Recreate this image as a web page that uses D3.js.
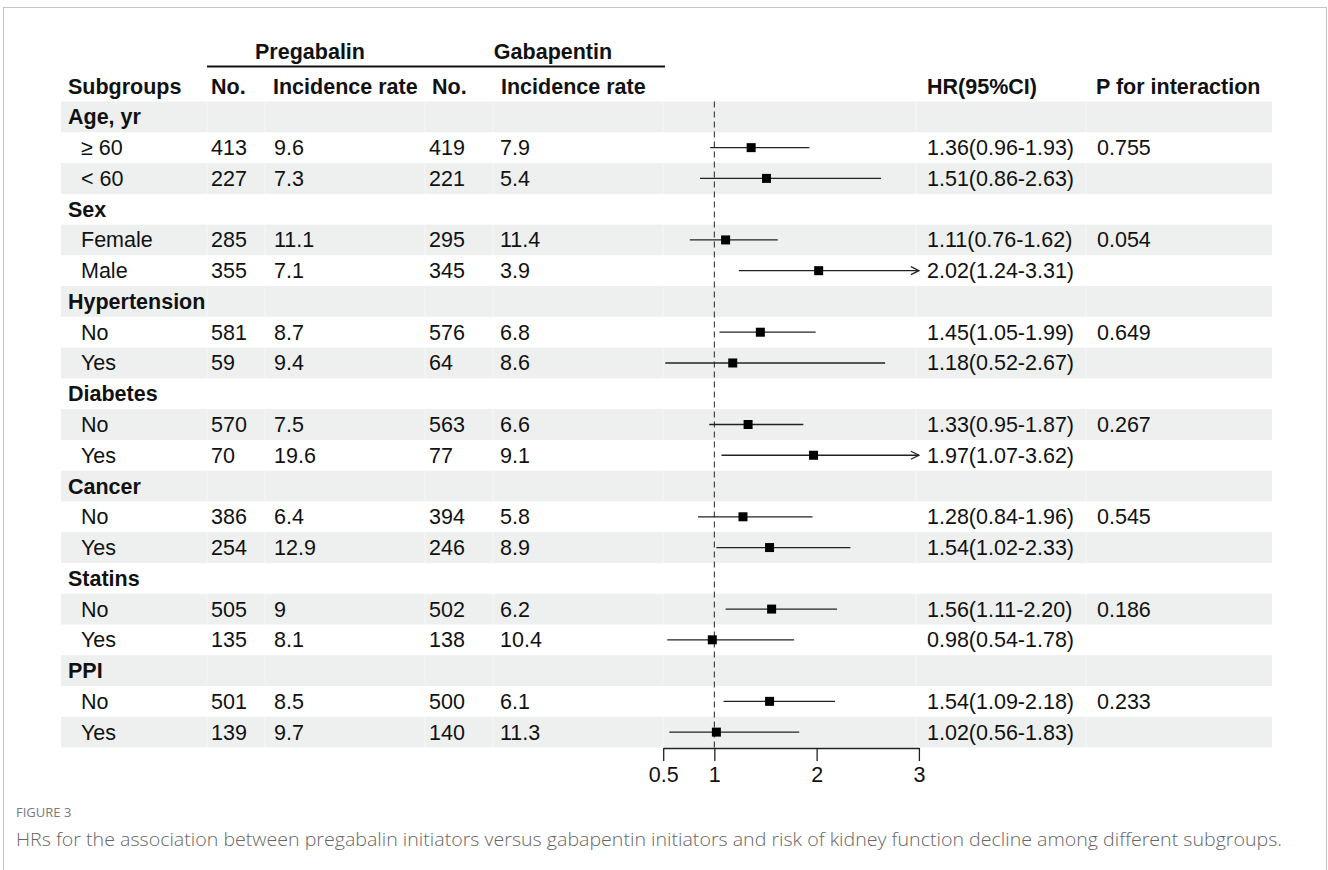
<!DOCTYPE html>
<html>
<head>
<meta charset="utf-8">
<script src="https://cdn.jsdelivr.net/npm/d3@7"></script>
<style>
  body { margin: 0; background: #fff; }
  text { font-family: "Liberation Sans", Arial, sans-serif; }
</style>
</head>
<body>
<div id="chart"></div>
<script>
const groups = ["Age, yr", "Sex", "Hypertension", "Diabetes", "Cancer", "Statins", "PPI"];
const subLabels = ["≥ 60", "< 60", "Female", "Male", "No", "Yes", "No", "Yes", "No", "Yes", "No", "Yes", "No", "Yes"];
const pregN = [413, 227, 285, 355, 581, 59, 570, 70, 386, 254, 505, 135, 501, 139];
const pregRate = ["9.6", "7.3", "11.1", "7.1", "8.7", "9.4", "7.5", "19.6", "6.4", "12.9", "9", "8.1", "8.5", "9.7"];
const gabaN = [419, 221, 295, 345, 576, 64, 563, 77, 394, 246, 502, 138, 500, 140];
const gabaRate = ["7.9", "5.4", "11.4", "3.9", "6.8", "8.6", "6.6", "9.1", "5.8", "8.9", "6.2", "10.4", "6.1", "11.3"];
const hr = [1.36, 1.51, 1.11, 2.02, 1.45, 1.18, 1.33, 1.97, 1.28, 1.54, 1.56, 0.98, 1.54, 1.02];
const lower = [0.96, 0.86, 0.76, 1.24, 1.05, 0.52, 0.95, 1.07, 0.84, 1.02, 1.11, 0.54, 1.09, 0.56];
const upper = [1.93, 2.63, 1.62, 3.31, 1.99, 2.67, 1.87, 3.62, 1.96, 2.33, 2.20, 1.78, 2.18, 1.83];
const pInteraction = ["0.755", "0.054", "0.649", "0.267", "0.545", "0.186", "0.233"];
const axisTicks = [0.5, 1, 2, 3];

// flatten into table rows: group header followed by its two subgroups
const rows = [];
groups.forEach((g, gi) => {
  rows.push({ type: "group", label: g });
  [0, 1].forEach(k => {
    const i = gi * 2 + k;
    rows.push({
      type: "sub", label: subLabels[i],
      n1: pregN[i], r1: pregRate[i], n2: gabaN[i], r2: gabaRate[i],
      hr: hr[i], lo: lower[i], hi: upper[i],
      p: k === 0 ? pInteraction[gi] : ""
    });
  });
});

const W = 1328, H = 870;
const svg = d3.select("#chart").append("svg")
  .attr("width", W)
  .attr("height", H);

// figure frame
svg.append("rect")
  .attr("x", 3.5).attr("y", 7.5)
  .attr("width", 1323).attr("height", 900)
  .attr("fill", "none")
  .attr("stroke", "#c4c4c4");

const y = d3.scaleBand()
  .domain(d3.range(rows.length))
  .range([101.5, 747.5]);

const x = d3.scaleLinear()
  .domain([0.5, 3])
  .range([663.2, 918.9]);

const fs = 21.5;
const col = { sub: 68, subIn: 81, n1: 211, r1: 274, n2: 429, r2: 500, hr: 927, p: 1097 };

// zebra shading
svg.append("g")
  .selectAll("rect")
  .data(rows.filter((d, i) => i % 2 === 0))
  .join("rect")
    .attr("x", 61)
    .attr("y", d => y(rows.indexOf(d)))
    .attr("width", 1272 - 61)
    .attr("height", y.bandwidth())
    .attr("fill", "#edf0ef");

// faint cell separators inside shaded rows
const seps = [207, 265, 425, 493, 663, 916, 1086];
svg.append("g")
  .selectAll("line")
  .data(seps)
  .join("line")
    .attr("x1", d => d).attr("x2", d => d)
    .attr("y1", 101.5).attr("y2", 747.5)
    .attr("stroke", "#fff")
    .attr("stroke-opacity", 0.5);

// column headers
const head = svg.append("g")
  .attr("font-size", fs)
  .attr("font-weight", "bold")
  .attr("fill", "#111");
head.append("text").attr("x", 310).attr("y", 59).attr("text-anchor", "middle").text("Pregabalin");
head.append("text").attr("x", 553).attr("y", 59).attr("text-anchor", "middle").text("Gabapentin");
svg.append("line")
  .attr("x1", 207).attr("x2", 665)
  .attr("y1", 66.5).attr("y2", 66.5)
  .attr("stroke", "#111")
  .attr("stroke-width", 2);
[["Subgroups", col.sub], ["No.", 211], ["Incidence rate", 273], ["No.", 432],
 ["Incidence rate", 501], ["HR(95%CI)", col.hr], ["P for interaction", 1096]]
  .forEach(([t, xx]) => head.append("text").attr("x", xx).attr("y", 93.5).text(t));

// table text
const body = svg.append("g")
  .attr("font-size", fs)
  .attr("fill", "#111");
const rowG = body.selectAll("g")
  .data(rows)
  .join("g")
    .attr("transform", (d, i) => `translate(0,${y(i) + y.bandwidth() / 2 + 7.5})`);

rowG.filter(d => d.type === "group")
  .append("text")
    .attr("x", col.sub)
    .attr("font-weight", "bold")
    .text(d => d.label);

const subs = rowG.filter(d => d.type === "sub");
subs.append("text").attr("x", col.subIn).text(d => d.label);
subs.append("text").attr("x", col.n1).text(d => d.n1);
subs.append("text").attr("x", col.r1).text(d => d.r1);
subs.append("text").attr("x", col.n2).text(d => d.n2);
subs.append("text").attr("x", col.r2).text(d => d.r2);
subs.append("text").attr("x", col.hr)
  .text(d => `${d.hr.toFixed(2)}(${d.lo.toFixed(2)}-${d.hi.toFixed(2)})`);
subs.append("text").attr("x", col.p).text(d => d.p);

// reference line at HR = 1
svg.append("line")
  .attr("x1", x(1)).attr("x2", x(1))
  .attr("y1", 101.5).attr("y2", 748)
  .attr("stroke", "#222")
  .attr("stroke-dasharray", "6,4");

// confidence intervals and point estimates
const xmax = x.domain()[1];
const forest = svg.append("g");
const subIdx = rows.map((d, i) => i).filter(i => rows[i].type === "sub");
subIdx.forEach(i => {
  const d = rows[i];
  const cy = y(i) + y.bandwidth() / 2;
  const x2 = x(Math.min(d.hi, xmax));
  forest.append("line")
    .attr("x1", x(d.lo)).attr("x2", x2)
    .attr("y1", cy).attr("y2", cy)
    .attr("stroke", "#222")
    .attr("stroke-width", 1.3);
  if (d.hi > xmax) {
    forest.append("path")
      .attr("d", `M${x2 - 8},${cy - 4}L${x2},${cy}L${x2 - 8},${cy + 4}`)
      .attr("fill", "none")
      .attr("stroke", "#222")
      .attr("stroke-width", 1.3);
  }
  forest.append("rect")
    .attr("x", x(d.hr) - 4.5).attr("y", cy - 4.5)
    .attr("width", 9).attr("height", 9)
    .attr("fill", "#000");
});

// x axis
const axis = svg.append("g")
  .attr("transform", "translate(0,748)")
  .call(d3.axisBottom(x)
    .tickValues(axisTicks)
    .tickFormat(d3.format("~g"))
    .tickSize(13)
    .tickSizeOuter(0)
    .tickPadding(6));
axis.selectAll("path, line").attr("stroke", "#222").attr("stroke-width", 1.3);
axis.selectAll("text")
  .attr("font-size", fs)
  .attr("font-family", "'Liberation Sans', Arial, sans-serif")
  .attr("fill", "#111");

// caption
svg.append("text")
  .attr("x", 16).attr("y", 817)
  .style("font-family", "'Open Sans', sans-serif")
  .attr("font-size", 13)
  .attr("fill", "#7a7a7a")
  .text("FIGURE 3");
svg.append("text")
  .attr("x", 16).attr("y", 846)
  .style("font-family", "'Open Sans', sans-serif")
  .style("font-weight", 300)
  .attr("font-size", 17.5)
  .attr("fill", "#666")
  .attr("textLength", 1266)
  .attr("lengthAdjust", "spacingAndGlyphs")
  .text("HRs for the association between pregabalin initiators versus gabapentin initiators and risk of kidney function decline among different subgroups.");
</script>
</body>
</html>
